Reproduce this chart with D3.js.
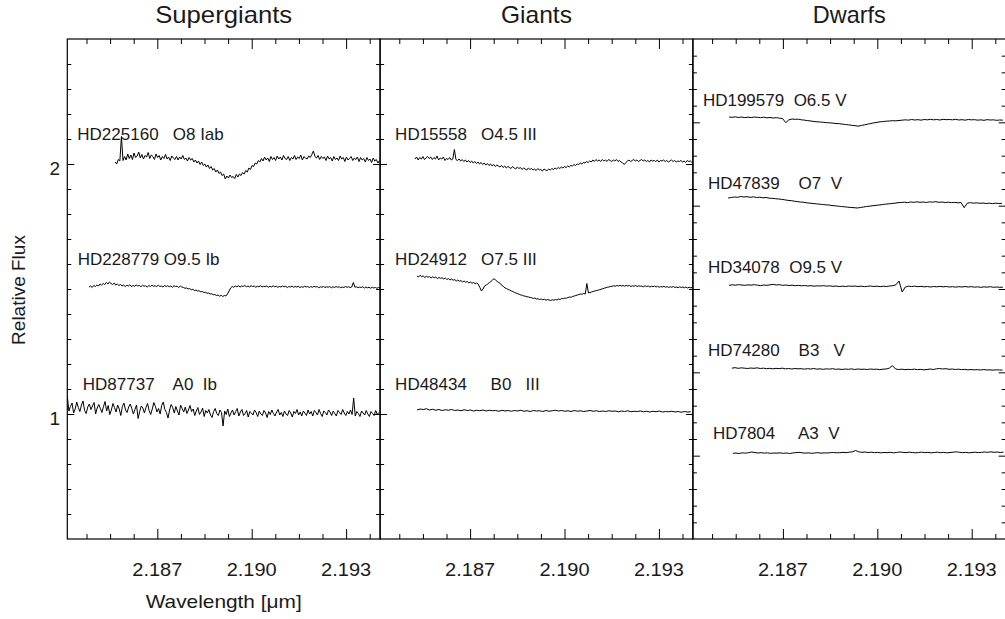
<!DOCTYPE html>
<html>
<head>
<meta charset="utf-8">
<script src="https://cdn.jsdelivr.net/npm/d3@7"></script>
<style>
  body { margin: 0; background: #fff; }
  svg { display: block; }
  text { font-family: "Liberation Sans", Arial, Helvetica, sans-serif; fill: #1a1a1a; }
</style>
</head>
<body>
<svg id="chart" width="1005" height="619"></svg>
<script>
// ---------------- DATA ----------------
const panelTitles = ["Supergiants", "Giants", "Dwarfs"];
const xDomain = [2.18414, 2.19408];
const xMajorTicks = [2.187, 2.190, 2.193];
const xTickLabels = ["2.187", "2.190", "2.193"];
const xMinorTicks = [2.18475, 2.18550, 2.18625, 2.18775, 2.18850, 2.18925, 2.19075, 2.19150, 2.19225, 2.19375];
const yMainDomain = [0.5, 2.5];
const yMainMajor = [1, 2];
const yMainLabels = ["1", "2"];
const yDwarfDomain = [0, 6];
const yDwarfMajor = [1, 2, 3, 4, 5];

const starIds   = ["HD225160", "HD228779", "HD87737", "HD15558", "HD24912", "HD48434",
                   "HD199579", "HD47839", "HD34078", "HD74280", "HD7804"];
const starTypes = ["O8 Iab", "O9.5 Ib", "A0  Ib", "O4.5 III", "O7.5 III", "B0   III",
                   "O6.5 V", "O7  V", "O9.5 V", "B3   V", "A3  V"];
const idGaps    = ["   ", " ", "    ", "   ", "   ", "     ", "  ", "    ", "  ", "    ", "     "];
const starPanel  = [0, 0, 0, 1, 1, 1, 2, 2, 2, 2, 2];
const starLevel  = [2.0, 1.5, 1.0, 2.0, 1.5, 1.0, 5, 4, 3, 2, 1];
const startWl    = [2.18566, 2.18483, 2.18414, 2.18525, 2.18531, 2.18531,
                    2.18529, 2.18526, 2.18529, 2.18538, 2.18541];
const sampleStep = [0.00005, 0.00005, 0.00005, 0.00005, 0.00005, 0.0001,
                    0.0001, 0.0001, 0.0001, 0.0001, 0.0001];

const fluxHD225160 = [
  2.008, 2.000, 2.018, 2.012, 2.110, 2.014, 2.030, 2.016, 2.040, 2.022,
  2.036, 2.018, 2.044, 2.026, 2.032, 2.048, 2.024, 2.038, 2.020, 2.034,
  2.028, 2.046, 2.022, 2.036, 2.030, 2.018, 2.040, 2.026, 2.034, 2.016,
  2.030, 2.022, 2.038, 2.020, 2.028, 2.014, 2.032, 2.024, 2.018, 2.030,
  2.016, 2.028, 2.020, 2.034, 2.018, 2.024, 2.012, 2.026, 2.016, 2.022,
  2.008, 2.016, 2.004, 2.012, 1.998, 2.008, 1.994, 2.000, 1.988, 1.996,
  1.982, 1.990, 1.976, 1.982, 1.968, 1.976, 1.962, 1.968, 1.954, 1.960,
  1.940, 1.952, 1.944, 1.956, 1.946, 1.950, 1.942, 1.958, 1.948, 1.960,
  1.954, 1.966, 1.960, 1.974, 1.968, 1.984, 1.978, 1.994, 1.990, 2.004,
  2.000, 2.014, 2.008, 2.022, 2.012, 2.028, 2.016, 2.024, 2.010, 2.030,
  2.018, 2.026, 2.014, 2.032, 2.020, 2.028, 2.016, 2.034, 2.022, 2.018,
  2.030, 2.014, 2.026, 2.020, 2.034, 2.018, 2.028, 2.022, 2.036, 2.016,
  2.030, 2.024, 2.020, 2.032, 2.026, 2.038, 2.052, 2.030, 2.024, 2.034,
  2.018, 2.030, 2.022, 2.028, 2.014, 2.032, 2.020, 2.026, 2.012, 2.030,
  2.018, 2.024, 2.014, 2.032, 2.020, 2.026, 2.010, 2.028, 2.016, 2.022,
  2.030, 2.014, 2.024, 2.018, 2.028, 2.010, 2.026, 2.016, 2.022, 2.008,
  2.026, 2.014, 2.020, 2.006, 2.024, 2.012, 2.018, 2.004, 2.014];

const fluxHD228779 = [
  1.508, 1.512, 1.506, 1.514, 1.510, 1.516, 1.512, 1.520, 1.516, 1.522,
  1.518, 1.526, 1.520, 1.528, 1.522, 1.518, 1.524, 1.516, 1.520, 1.514,
  1.518, 1.512, 1.516, 1.510, 1.515, 1.512, 1.517, 1.510, 1.514, 1.511,
  1.516, 1.512, 1.514, 1.509, 1.515, 1.511, 1.513, 1.508, 1.514, 1.510,
  1.515, 1.511, 1.513, 1.509, 1.516, 1.510, 1.512, 1.508, 1.514, 1.510,
  1.513, 1.509, 1.512, 1.507, 1.513, 1.510, 1.511, 1.506, 1.512, 1.508,
  1.506, 1.503, 1.504, 1.500, 1.502, 1.497, 1.499, 1.494, 1.496, 1.492,
  1.493, 1.489, 1.490, 1.486, 1.487, 1.483, 1.484, 1.480, 1.481, 1.477,
  1.478, 1.474, 1.476, 1.471, 1.475, 1.470, 1.474, 1.472, 1.480, 1.492,
  1.504, 1.510, 1.507, 1.512, 1.509, 1.513, 1.508, 1.512, 1.510, 1.514,
  1.509, 1.512, 1.508, 1.513, 1.510, 1.512, 1.507, 1.511, 1.509, 1.513,
  1.508, 1.511, 1.509, 1.512, 1.507, 1.511, 1.508, 1.513, 1.509, 1.511,
  1.507, 1.510, 1.508, 1.512, 1.509, 1.511, 1.506, 1.510, 1.508, 1.512,
  1.507, 1.510, 1.508, 1.511, 1.506, 1.509, 1.507, 1.511, 1.508, 1.510,
  1.506, 1.510, 1.507, 1.511, 1.508, 1.510, 1.505, 1.509, 1.507, 1.510,
  1.506, 1.509, 1.507, 1.510, 1.505, 1.509, 1.506, 1.510, 1.507, 1.509,
  1.505, 1.508, 1.506, 1.510, 1.507, 1.509, 1.506, 1.508, 1.526, 1.507,
  1.509, 1.505, 1.508, 1.506, 1.509, 1.504, 1.508, 1.505, 1.507, 1.503,
  1.507, 1.504, 1.506, 1.503, 1.506, 1.504];

const fluxHD87737 = [
  1.072, 1.012, 1.030, 1.044, 1.004, 1.020, 1.048, 1.026, 1.010, 1.036,
  1.052, 1.014, 1.002, 1.028, 1.040, 1.018, 1.032, 1.046, 1.000, 1.024,
  1.038, 1.022, 1.006, 1.030, 1.050, 1.012, 1.034, 0.998, 1.016, 1.042,
  1.026, 1.008, 1.036, 1.020, 0.994, 1.030, 1.044, 1.016, 1.006, 1.028,
  1.040, 1.022, 1.000, 1.018, 1.036, 0.982, 1.010, 1.032, 1.024, 1.004,
  1.026, 1.042, 1.014, 0.998, 1.020, 1.046, 1.030, 1.008, 1.022, 1.000,
  1.034, 1.048, 1.018, 1.006, 0.984, 1.016, 1.038, 1.026, 1.004, 1.030,
  1.012, 0.996, 1.036, 1.022, 1.008, 1.028, 1.002, 1.016, 1.034, 1.010,
  1.020, 0.994, 1.012, 1.026, 0.998, 1.008, 1.024, 0.990, 1.014, 1.004,
  1.018, 0.996, 0.986, 1.010, 1.022, 1.002, 0.994, 1.016, 1.006, 0.952,
  1.012, 0.998, 1.020, 0.990, 1.004, 1.016, 0.996, 1.010, 1.022, 0.992,
  1.008, 1.018, 0.994, 1.002, 1.014, 0.988, 1.010, 1.004, 0.996, 1.016,
  1.006, 0.990, 1.012, 1.000, 0.994, 1.014, 1.004, 0.986, 1.010, 0.998,
  1.016, 1.002, 0.992, 1.008, 1.018, 0.996, 1.006, 0.990, 1.012, 1.000,
  0.994, 1.014, 1.004, 0.988, 1.010, 1.002, 1.018, 0.996, 1.008, 0.992,
  1.012, 1.004, 0.994, 1.016, 1.000, 1.010, 0.992, 1.014, 1.006, 0.996,
  1.018, 1.002, 0.990, 1.012, 1.006, 0.996, 1.016, 1.008, 0.994, 1.012,
  1.002, 0.992, 1.014, 1.006, 0.998, 1.018, 1.004, 0.994, 1.010, 1.000,
  1.016, 0.998, 1.064, 0.992, 1.010, 1.002, 0.990, 1.012, 1.004, 0.996,
  1.014, 1.000, 0.990, 1.010, 1.002, 0.994, 1.014, 0.998, 1.006];

const fluxHD15558 = [
  2.020, 2.028, 2.016, 2.026, 2.020, 2.030, 2.018, 2.024, 2.030, 2.022,
  2.028, 2.018, 2.026, 2.020, 2.032, 2.016, 2.024, 2.020, 2.028, 2.014,
  2.022, 2.018, 2.026, 2.016, 2.020, 2.058, 2.018, 2.014, 2.020, 2.012,
  2.018, 2.010, 2.016, 2.008, 2.014, 2.006, 2.012, 2.004, 2.010, 2.002,
  2.008, 2.000, 2.006, 1.998, 2.004, 1.996, 2.002, 1.994, 2.000, 1.992,
  1.998, 1.990, 1.996, 1.992, 1.988, 1.994, 1.986, 1.992, 1.984, 1.990,
  1.986, 1.982, 1.990, 1.984, 1.980, 1.988, 1.982, 1.986, 1.978, 1.984,
  1.980, 1.976, 1.984, 1.978, 1.982, 1.976, 1.980, 1.974, 1.982, 1.976,
  1.978, 1.972, 1.980, 1.976, 1.974, 1.980, 1.976, 1.982, 1.978, 1.984,
  1.980, 1.986, 1.982, 1.988, 1.984, 1.990, 1.986, 1.992, 1.988, 1.994,
  1.992, 1.998, 1.994, 2.000, 1.998, 2.004, 2.000, 2.006, 2.004, 2.010,
  2.006, 2.012, 2.008, 2.016, 2.010, 2.018, 2.012, 2.016, 2.010, 2.018,
  2.012, 2.016, 2.010, 2.018, 2.014, 2.010, 2.016, 2.012, 2.018, 2.010,
  2.014, 2.008, 2.004, 1.998, 2.006, 2.012, 2.016, 2.010, 2.014, 2.018,
  2.012, 2.016, 2.010, 2.014, 2.018, 2.012, 2.016, 2.010, 2.014, 2.008,
  2.016, 2.012, 2.014, 2.010, 2.016, 2.008, 2.014, 2.012, 2.016, 2.010,
  2.014, 2.008, 2.012, 2.016, 2.010, 2.014, 2.008, 2.012, 2.010, 2.014,
  2.008, 2.012, 2.006, 2.014, 2.010, 2.012, 2.006];

const fluxHD24912 = [
  1.552, 1.548, 1.555, 1.549, 1.553, 1.546, 1.551, 1.547, 1.550, 1.544,
  1.549, 1.545, 1.548, 1.542, 1.546, 1.543, 1.545, 1.540, 1.544, 1.538,
  1.542, 1.536, 1.540, 1.535, 1.538, 1.532, 1.536, 1.531, 1.534, 1.528,
  1.532, 1.527, 1.530, 1.524, 1.528, 1.523, 1.526, 1.521, 1.524, 1.519,
  1.506, 1.492, 1.500, 1.512, 1.516, 1.520, 1.526, 1.530, 1.536, 1.541,
  1.536, 1.530, 1.526, 1.522, 1.514, 1.510, 1.504, 1.502, 1.498, 1.496,
  1.492, 1.490, 1.486, 1.484, 1.481, 1.479, 1.476, 1.475, 1.472, 1.471,
  1.469, 1.468, 1.466, 1.465, 1.462, 1.464, 1.460, 1.461, 1.458, 1.460,
  1.457, 1.459, 1.455, 1.458, 1.456, 1.454, 1.457, 1.455, 1.458, 1.456,
  1.460, 1.458, 1.462, 1.461, 1.464, 1.463, 1.466, 1.468, 1.467, 1.470,
  1.472, 1.474, 1.476, 1.478, 1.480, 1.479, 1.482, 1.480, 1.522, 1.484,
  1.486, 1.488, 1.490, 1.492, 1.494, 1.495, 1.497, 1.499, 1.501, 1.503,
  1.505, 1.507, 1.508, 1.510, 1.511, 1.513, 1.511, 1.514, 1.512, 1.515,
  1.512, 1.514, 1.511, 1.515, 1.512, 1.514, 1.510, 1.513, 1.511, 1.514,
  1.510, 1.513, 1.511, 1.512, 1.509, 1.513, 1.510, 1.512, 1.508, 1.511,
  1.509, 1.512, 1.508, 1.511, 1.507, 1.510, 1.508, 1.511, 1.507, 1.510,
  1.506, 1.509, 1.507, 1.510, 1.506, 1.508, 1.505, 1.509, 1.506, 1.508,
  1.505, 1.508, 1.504, 1.507, 1.505, 1.506];

const fluxHD48434 = [1.016, 1.020, 1.018, 1.021, 1.016, 1.019, 1.015, 1.018, 1.014, 1.017,
  1.015, 1.018, 1.014, 1.016, 1.013, 1.017, 1.014, 1.016, 1.012, 1.015,
  1.013, 1.016, 1.012, 1.015, 1.013, 1.014, 1.011, 1.015, 1.012, 1.014,
  1.011, 1.014, 1.012, 1.015, 1.011, 1.013, 1.010, 1.014, 1.012, 1.013,
  1.010, 1.014, 1.011, 1.013, 1.015, 1.012, 1.014, 1.011, 1.013, 1.010,
  1.014, 1.011, 1.013, 1.010, 1.012, 1.014, 1.011, 1.013, 1.010, 1.012,
  1.010, 1.013, 1.011, 1.012, 1.009, 1.012, 1.010, 1.013, 1.009, 1.011,
  1.010, 1.012, 1.009, 1.011, 1.008, 1.011, 1.009, 1.012, 1.008, 1.010,
  1.009, 1.011, 1.008, 1.010, 1.007, 1.010, 1.008, 1.009];

const fluxHD199579 = [5.064, 5.060, 5.066, 5.058, 5.064, 5.056, 5.062, 5.058, 5.064, 5.060,
  5.056, 5.062, 5.054, 5.058, 5.052, 5.056, 5.050, 5.046,
  4.996,
  5.030, 5.040, 5.036, 5.038,
  5.030, 5.026, 5.020, 5.016, 5.010, 5.006,
  5.004, 5.000, 4.996, 4.994, 4.990, 4.986,
  4.984, 4.978, 4.974, 4.970, 4.964, 4.960,
  4.954,
  4.962, 4.970, 4.978, 4.986, 4.994,
  5.000, 5.006, 5.010, 5.014, 5.016, 5.020, 5.018, 5.022,
  5.026, 5.030, 5.026, 5.034, 5.028, 5.032, 5.026, 5.034, 5.030, 5.036,
  5.030, 5.034, 5.028, 5.036, 5.032, 5.034, 5.030, 5.036, 5.028, 5.032,
  5.026, 5.034, 5.030, 5.032, 5.026, 5.030, 5.024, 5.032, 5.028, 5.030,
  5.024, 5.028, 5.026];

const fluxHD47839 = [4.092, 4.098, 4.104, 4.100, 4.110, 4.104, 4.108, 4.100, 4.106, 4.098,
  4.102, 4.094, 4.098, 4.090, 4.088, 4.084, 4.080,
  4.076, 4.070, 4.064, 4.060, 4.054, 4.048,
  4.044, 4.040, 4.034, 4.030, 4.026, 4.022, 4.018, 4.014, 4.010, 4.008,
  4.002, 3.998, 3.994, 3.990, 3.986, 3.982, 3.978, 3.976, 3.972,
  3.978, 3.984, 3.990, 3.994, 4.000, 4.004, 4.008,
  4.014, 4.018, 4.022, 4.026, 4.030, 4.036,
  4.038, 4.042, 4.036, 4.044, 4.040, 4.046, 4.040, 4.044, 4.038, 4.046,
  4.042, 4.048, 4.040, 4.044, 4.038, 4.042, 4.036, 4.040, 4.034, 4.038,
  3.976,
  4.030, 4.036, 4.030, 4.034, 4.028, 4.032, 4.026, 4.030, 4.024, 4.030, 4.026, 4.028];

const fluxHD34078 = [3.044, 3.050, 3.046, 3.052, 3.048, 3.044, 3.050, 3.046, 3.052, 3.046,
  3.040, 3.048, 3.044, 3.050, 3.056, 3.048, 3.052, 3.044, 3.048, 3.042,
  3.046, 3.040, 3.044, 3.038, 3.042, 3.036, 3.040, 3.034, 3.038, 3.036,
  3.040, 3.034, 3.038, 3.032, 3.036, 3.030, 3.034, 3.030, 3.036, 3.032,
  3.036, 3.030, 3.034, 3.028, 3.032, 3.036, 3.030, 3.034, 3.028, 3.034,
  3.030, 3.036, 3.040, 3.050,
  3.096, 2.964,
  3.024, 3.034, 3.030, 3.034,
  3.028, 3.032, 3.026, 3.030, 3.024, 3.030, 3.026, 3.032, 3.026, 3.030,
  3.024, 3.028, 3.022, 3.028, 3.024, 3.030, 3.024, 3.028, 3.022, 3.026,
  3.020, 3.026, 3.022, 3.028, 3.020, 3.024, 3.020, 3.022];

const fluxHD74280 = [2.050, 2.056, 2.048, 2.054, 2.050, 2.046, 2.052, 2.048, 2.054, 2.046,
  2.050, 2.044, 2.048, 2.042, 2.048, 2.044, 2.050, 2.042, 2.046, 2.040,
  2.046, 2.042, 2.044, 2.038, 2.044, 2.040, 2.046, 2.038, 2.042, 2.036,
  2.042, 2.038, 2.044, 2.036, 2.040, 2.034, 2.040, 2.036, 2.042, 2.034,
  2.040, 2.036, 2.038, 2.034, 2.040, 2.036, 2.038, 2.032, 2.038, 2.040,
  2.050, 2.080, 2.040,
  2.034, 2.038, 2.032, 2.036, 2.034, 2.038, 2.032, 2.036, 2.030, 2.034,
  2.040, 2.034, 2.042, 2.046, 2.040, 2.044, 2.036, 2.040, 2.034, 2.038,
  2.032, 2.036, 2.030, 2.034, 2.030, 2.032, 2.028, 2.034, 2.028, 2.030,
  2.026, 2.030, 2.028, 2.026];

const fluxHD7804 = [1.028, 1.032, 1.026, 1.034, 1.030, 1.036, 1.044, 1.038, 1.032, 1.036,
  1.030, 1.034, 1.028, 1.032, 1.030, 1.034, 1.028, 1.032, 1.026, 1.032,
  1.036, 1.040, 1.034, 1.030, 1.034, 1.028, 1.032, 1.036, 1.030, 1.034,
  1.032, 1.036, 1.038, 1.034, 1.036, 1.040, 1.036, 1.042, 1.046, 1.062,
  1.046, 1.040, 1.044, 1.038, 1.042, 1.036, 1.040, 1.034, 1.038, 1.036,
  1.040, 1.034, 1.038, 1.044, 1.040, 1.036, 1.042, 1.038, 1.034, 1.038,
  1.042, 1.036, 1.040, 1.034, 1.038, 1.042, 1.036, 1.040, 1.034, 1.038,
  1.042, 1.046, 1.040, 1.036, 1.040, 1.034, 1.038, 1.042, 1.036, 1.040,
  1.044, 1.040, 1.046, 1.040, 1.044, 1.038, 1.042];

const fluxes = [fluxHD225160, fluxHD228779, fluxHD87737, fluxHD15558, fluxHD24912, fluxHD48434,
                fluxHD199579, fluxHD47839, fluxHD34078, fluxHD74280, fluxHD7804];

// ---------------- LAYOUT ----------------
const plotTop = 39, plotBottom = 539;
const panelLeft = 67.3, panelWidth = 312.8;
const titleLength = [137, 71, 73];
const labelDx = [10, 10.5, 15.5, 15, 15, 15, 10, 15, 15, 15, 20];
const labelDyMain = -24.5, labelDyDwarf = -16.5;

const svg = d3.select("#chart");
const x = d3.scaleLinear().domain(xDomain).range([0, panelWidth]);
const yMain = d3.scaleLinear().domain(yMainDomain).range([plotBottom, plotTop]);
const yDwarf = d3.scaleLinear().domain(yDwarfDomain).range([plotBottom, plotTop]);

const yMainMinor = d3.range(0.6, 2.45, 0.1).map(v => +v.toFixed(2)).filter(v => !yMainMajor.includes(v));
const yDwarfMinor = d3.range(0.2, 5.9, 0.2).map(v => +v.toFixed(2)).filter(v => !yDwarfMajor.includes(v));

svg.append("defs").append("clipPath").attr("id", "clip")
  .append("rect").attr("x", 0).attr("y", plotTop).attr("width", panelWidth).attr("height", plotBottom - plotTop);

function styleAxis(g) {
  g.select(".domain").remove();
  g.selectAll(".tick line").attr("stroke", "#000").attr("stroke-width", 1);
  g.selectAll(".tick text").remove();
}

for (let p = 0; p < 3; p++) {
  const g = svg.append("g").attr("transform", `translate(${panelLeft + p * panelWidth},0)`);
  const yS = p < 2 ? yMain : yDwarf;
  const yMaj = p < 2 ? yMainMajor : yDwarfMajor;
  const yMin = p < 2 ? yMainMinor : yDwarfMinor;

  g.append("g").attr("transform", `translate(0,${plotBottom})`)
    .call(d3.axisBottom(x).tickValues(xMinorTicks).tickSize(-5)).call(styleAxis);
  g.append("g").attr("transform", `translate(0,${plotBottom})`)
    .call(d3.axisBottom(x).tickValues(xMajorTicks).tickSize(-10)).call(styleAxis);
  g.append("g").attr("transform", `translate(0,${plotTop})`)
    .call(d3.axisTop(x).tickValues(xMinorTicks).tickSize(-5)).call(styleAxis);
  g.append("g").attr("transform", `translate(0,${plotTop})`)
    .call(d3.axisTop(x).tickValues(xMajorTicks).tickSize(-10)).call(styleAxis);

  g.append("g").call(d3.axisLeft(yS).tickValues(yMin).tickSize(-4)).call(styleAxis);
  g.append("g").call(d3.axisLeft(yS).tickValues(yMaj).tickSize(-7)).call(styleAxis);
  g.append("g").attr("transform", `translate(${panelWidth},0)`)
    .call(d3.axisRight(yS).tickValues(yMin).tickSize(-4)).call(styleAxis);
  g.append("g").attr("transform", `translate(${panelWidth},0)`)
    .call(d3.axisRight(yS).tickValues(yMaj).tickSize(-7)).call(styleAxis);

  g.append("rect").attr("x", 0).attr("y", plotTop).attr("width", panelWidth)
    .attr("height", plotBottom - plotTop).attr("fill", "none").attr("stroke", "#000").attr("stroke-width", 1.2);

  g.selectAll(".xlab").data(xMajorTicks).join("text")
    .attr("x", d => x(d)).attr("y", 576).attr("text-anchor", "middle")
    .attr("font-size", 19).attr("textLength", 50).attr("lengthAdjust", "spacingAndGlyphs")
    .text((d, i) => xTickLabels[i]);

  g.append("text").attr("x", panelWidth / 2).attr("y", 23).attr("text-anchor", "middle")
    .attr("font-size", 24).attr("textLength", titleLength[p]).attr("lengthAdjust", "spacingAndGlyphs")
    .text(panelTitles[p]);

  const line = d3.line();
  starIds.forEach((id, k) => {
    if (starPanel[k] !== p) return;
    const pts = fluxes[k].map((f, i) => [x(startWl[k] + i * sampleStep[k]), yS(f)]);
    g.append("path").attr("d", line(pts)).attr("fill", "none").attr("stroke", "#000")
      .attr("stroke-width", 1).attr("stroke-linejoin", "round").attr("clip-path", "url(#clip)");
    g.append("text")
      .attr("x", labelDx[k])
      .attr("y", yS(starLevel[k]) + (p < 2 ? labelDyMain : labelDyDwarf))
      .attr("font-size", 17)
      .attr("xml:space", "preserve").style("white-space", "pre")
      .text(id + idGaps[k] + starTypes[k]);
  });
}

svg.selectAll(".ylab").data(yMainMajor).join("text")
  .attr("x", 60).attr("y", d => yMain(d) + 11).attr("text-anchor", "end")
  .attr("font-size", 19).text((d, i) => yMainLabels[i]);

svg.append("text").attr("x", panelLeft + panelWidth / 2).attr("y", 608).attr("text-anchor", "middle")
  .attr("font-size", 19).attr("textLength", 156).attr("lengthAdjust", "spacingAndGlyphs")
  .text("Wavelength [μm]");
svg.append("text").attr("transform", "translate(25,290) rotate(-90)").attr("text-anchor", "middle")
  .attr("font-size", 19).text("Relative Flux");
</script>
</body>
</html>
